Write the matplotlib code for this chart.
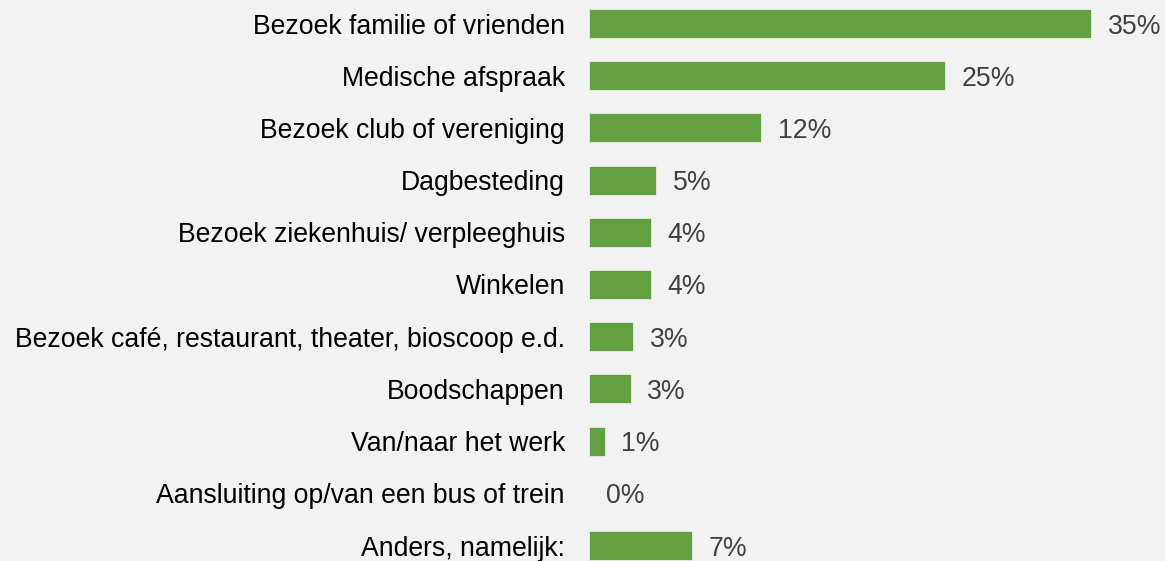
import matplotlib.pyplot as plt

categorieen = [
    "Bezoek familie of vrienden",
    "Medische afspraak",
    "Bezoek club of vereniging",
    "Dagbesteding",
    "Bezoek ziekenhuis/ verpleeghuis",
    "Winkelen",
    "Bezoek café, restaurant, theater, bioscoop e.d.",
    "Boodschappen",
    "Van/naar het werk",
    "Aansluiting op/van een bus of trein",
    "Anders, namelijk:",
]
waarden = [35.0, 24.8, 12.0, 4.7, 4.3, 4.3, 3.1, 2.9, 1.1, 0.0, 7.2]
labels = ["35%", "25%", "12%", "5%", "4%", "4%", "3%", "3%", "1%", "0%", "7%"]

bg = "#f2f2f2"
groen = "#63a042"

plt.rcParams['font.family'] = ['Liberation Sans', 'DejaVu Sans']

W, H = 1165, 561
fig = plt.figure(figsize=(W / 100, H / 100), dpi=100, facecolor=bg)
# axes placed in pixels: bars start at x=589, rows 52.2 px apart
ax = fig.add_axes([589 / W, (561 - 571.6) / H, 576 / W, 574.2 / H])
ax.set_facecolor(bg)

pos = list(range(len(categorieen)))
lw = [0.6 if v > 0 else 0 for v in waarden]
ax.barh(pos, waarden, height=0.555, color=groen, edgecolor="#e6eee0", linewidth=lw)
for p, v, t in zip(pos, waarden, labels):
    ax.annotate(t, (v, p), xytext=(12.0, 0), textcoords="offset points",
                va="center_baseline", ha="left", fontsize=19.2, color="#404040")

ax.set_xlim(0, 576 / 14.34)
ax.set_ylim(10.5, -0.5)
ax.set_yticks(pos)
ax.set_yticklabels(categorieen, fontsize=19.2, color="black", va="center_baseline")
ax.tick_params(axis="y", length=0, pad=17.3)
ax.set_xticks([])
for s in ax.spines.values():
    s.set_visible(False)

fig.savefig("out.png", dpi=100, facecolor=bg)
